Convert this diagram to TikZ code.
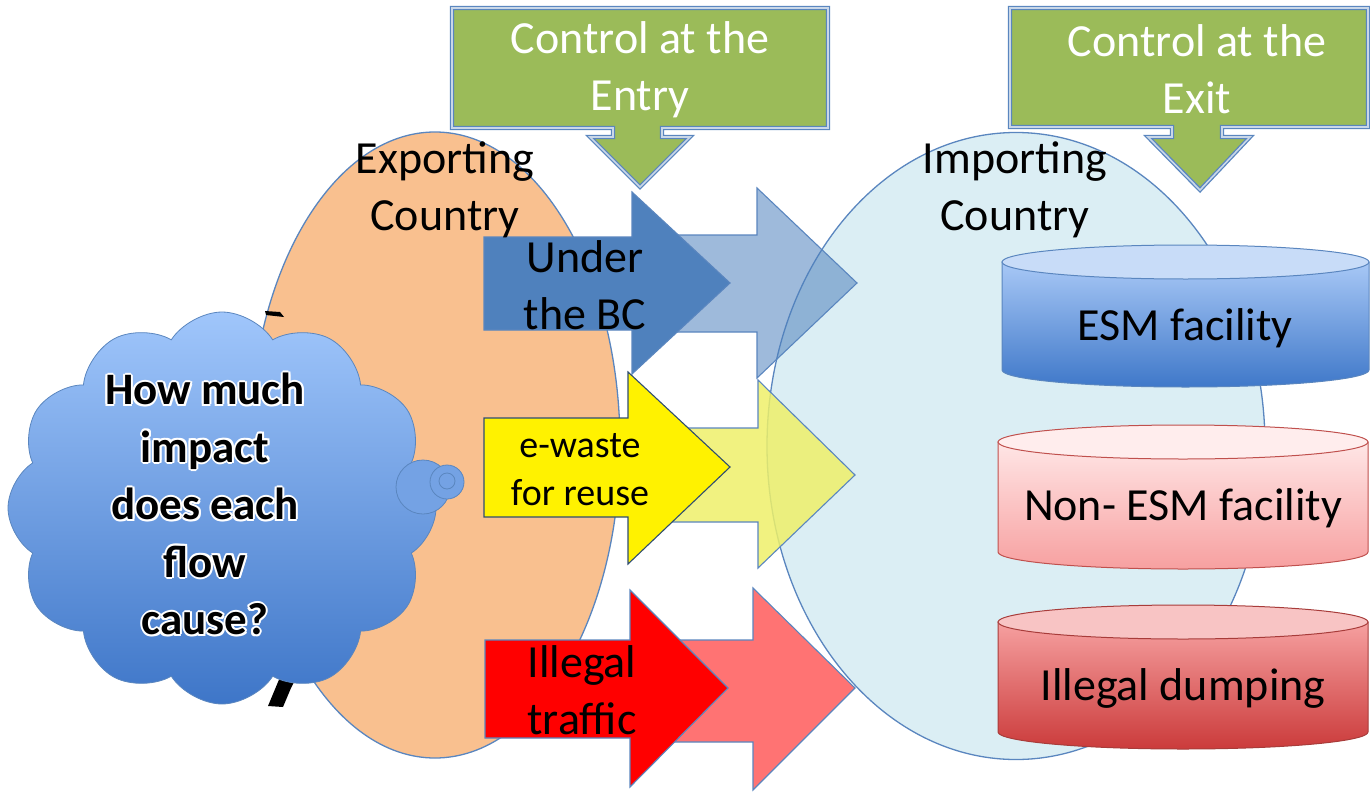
\documentclass[tikz,border=0pt]{standalone}
\usepackage{fontspec}
\setmainfont{Carlito}
\usetikzlibrary{shapes.geometric,shapes.symbols}
\definecolor{expfill}{HTML}{F9C08F}
\definecolor{impfill}{HTML}{DBEEF4}
\definecolor{edgeblue}{HTML}{5A86BF}
\definecolor{darkblue}{HTML}{4F81BD}
\definecolor{greenfill}{HTML}{9BBB59}
\definecolor{calloutlight}{HTML}{C9D7E8}
\definecolor{cloudtop}{HTML}{A0C6FB}
\definecolor{cloudbot}{HTML}{3E76C8}
\definecolor{esmtop}{HTML}{A8C8F6}
\definecolor{esmbot}{HTML}{3F78C9}
\definecolor{esmend}{HTML}{C8DCF8}
\definecolor{nontop}{HTML}{FFE6E6}
\definecolor{nonbot}{HTML}{F7A0A0}
\definecolor{nonend}{HTML}{FFEDED}
\definecolor{nonline}{HTML}{C0504D}
\definecolor{illtop}{HTML}{F6A0A0}
\definecolor{illbot}{HTML}{CB3B3B}
\definecolor{illend}{HTML}{F8C4C4}
\definecolor{illline}{HTML}{A83C3A}
\definecolor{lightyellow}{HTML}{EEF06A}
\tikzset{
  country/.style={ellipse, draw=edgeblue, line width=1.3pt, inner sep=0pt},
  flowdark/.style={draw=edgeblue, line width=1.1pt, line join=miter},
  flowlight/.style={draw=edgeblue, line width=1.1pt, fill opacity=0.55, line join=miter},
  callout/.style={fill=greenfill, draw=edgeblue, line width=1.3pt, double=calloutlight, double distance=1.6pt, line join=miter},
  calltext/.style={text=white, align=center, font=\fontsize{46}{57}\selectfont},
  bigtext/.style={text=black, align=center, font=\fontsize{46}{57}\selectfont},
  cyltext/.style={text=black, font=\fontsize{46}{57}\selectfont},
  cloudtext/.style={align=center, font=\bfseries\fontsize{45}{57.5}\selectfont}
}
\begin{document}
\begin{tikzpicture}[x=1pt,y=-1pt]
\useasboundingbox (0,0) rectangle (1370,792);
% countries
\node[country, fill=expfill, minimum width=370pt, minimum height=626pt] (exp) at (435,445) {};
\node[country, fill=impfill, minimum width=498pt, minimum height=627pt] (imp) at (1016,446) {};
% light flow arrows
\path[flowlight, fill=darkblue] (640,235) -- (757,235) -- (757,188) -- (857,283) -- (757,378) -- (757,332) -- (640,332) -- cycle;
\path[flowlight, fill=lightyellow, fill opacity=0.85] (640,428) -- (758,428) -- (758,380) -- (855,475) -- (758,568) -- (758,522) -- (640,522) -- cycle;
\path[flowlight, fill=red] (640,640) -- (753,640) -- (753,588) -- (855,688) -- (753,790) -- (753,742) -- (640,742) -- cycle;
% dark flow arrows
\path[flowdark, fill=darkblue] (484,237) -- (632,237) -- (632,192) -- (730,283) -- (632,374) -- (632,330) -- (484,330) -- cycle;
\path[flowdark, fill=yellow, draw=darkblue!60!black] (484,418) -- (628,418) -- (628,372) -- (730,467) -- (628,564) -- (628,517) -- (484,517) -- cycle;
\path[flowdark, fill=red] (485,640) -- (630,640) -- (630,590) -- (728,688) -- (630,787) -- (630,738) -- (485,738) -- cycle;
% black remnants of the callout
\fill[black] (265,311) -- (280,312) -- (284,317) -- (266,315) -- cycle;
\fill[black] (292,652) -- (318,661) -- (321,668) -- (301,668) -- (291,688) -- (283,707) -- (268,706) -- (278,682) -- cycle;
% cloud
\node[cloud, cloud puffs=12, cloud puff arc=115, aspect=1.1, minimum width=428pt, minimum height=392pt, inner sep=0pt, draw=edgeblue, line width=0.8pt, top color=cloudtop, bottom color=cloudbot] (cloud) at (222,508) {};
\path[draw=edgeblue, line width=0.8pt, fill=cloudtop!55!cloudbot] (423,487) circle[radius=27];
\path[draw=edgeblue, line width=0.8pt, fill=cloudtop!55!cloudbot] (447,482) circle[radius=17];
\path[draw=edgeblue, line width=0.8pt] (447,481) circle[radius=8];
% cylinders
\path[draw=edgeblue, line width=1pt, top color=esmtop, bottom color=esmbot] (1002,262) -- (1002,370) arc[start angle=180, end angle=0, x radius=183.5, y radius=17] -- (1369,262) -- cycle;
\path[draw=edgeblue, line width=1pt, fill=esmend] (1185.5,262) ellipse[x radius=183.5, y radius=17];
\path[draw=nonline, line width=1pt, top color=nontop, bottom color=nonbot] (998,442) -- (998,552) arc[start angle=180, end angle=0, x radius=185, y radius=17] -- (1368,442) -- cycle;
\path[draw=nonline, line width=1pt, fill=nonend] (1183,442) ellipse[x radius=185, y radius=17];
\path[draw=illline, line width=1pt, top color=illtop, bottom color=illbot] (998,622) -- (998,732) arc[start angle=180, end angle=0, x radius=185, y radius=17] -- (1368,622) -- cycle;
\path[draw=illline, line width=1pt, fill=illend] (1183,622) ellipse[x radius=185, y radius=17];
% green callouts
\path[callout] (452,8) -- (828,8) -- (828,128) -- (662,128) -- (662,137) -- (690,137) -- (640,187) -- (590,137) -- (613,137) -- (613,128) -- (452,128) -- cycle;
\path[callout] (1010,8) -- (1368,8) -- (1368,127) -- (1222,127) -- (1222,137) -- (1250,137) -- (1200,190) -- (1148,137) -- (1172,137) -- (1172,127) -- (1010,127) -- cycle;
% texts
\node[calltext] (entry) at (640,70) {Control at the\\Entry};
\node[calltext] (exit) at (1197,69) {Control at the\\Exit};
\node[bigtext] (explabel) at (445,190) {Exporting\\Country};
\node[bigtext] (implabel) at (1015,190) {Importing\\Country};
\node[bigtext] (underbc) at (585,285) {Under\\the BC};
\node[text=black, align=center, font=\fontsize{38}{48}\selectfont] (reuse) at (580,470) {e-waste\\for reuse};
\node[bigtext] (illegal) at (582,690) {Illegal\\traffic};
\node[cyltext] (esm) at (1185,328) {ESM facility};
\node[cyltext] (nonesm) at (1183,508) {Non- ESM facility};
\node[cyltext] (dump) at (1183,688) {Illegal dumping};
% white glow behind the question
\foreach \dx/\dy in {-2/0,2/0,0/-2,0/2,-1.5/-1.5,1.5/1.5,-1.5/1.5,1.5/-1.5}{
  \node[cloudtext, text=white] at (205+\dx,504+\dy) {How much\\impact\\does each\\flow\\cause?};
}
\node[cloudtext, text=black] (question) at (205,504) {How much\\impact\\does each\\flow\\cause?};
\end{tikzpicture}
\end{document}
